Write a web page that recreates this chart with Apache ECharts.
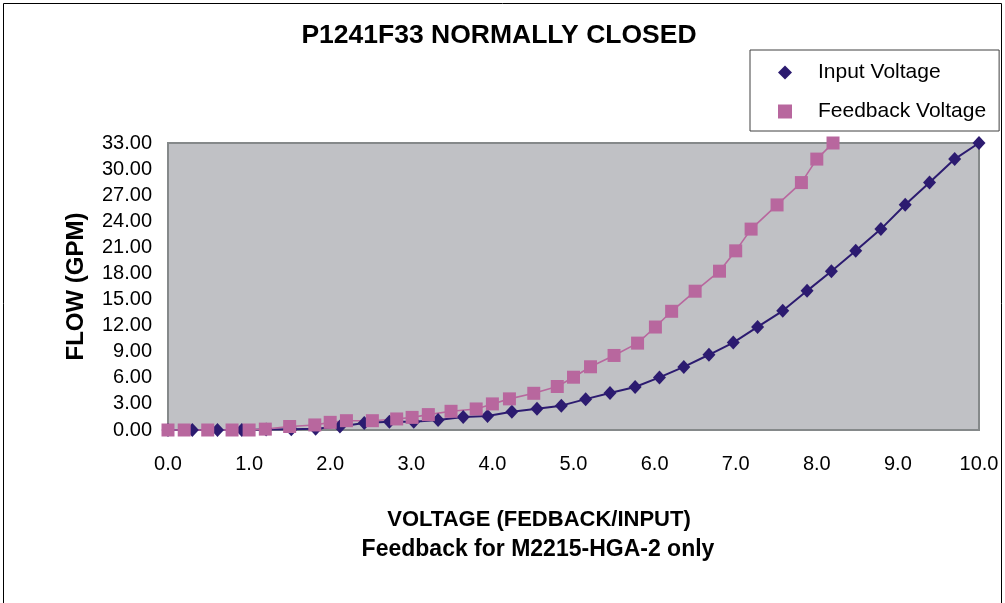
<!DOCTYPE html>
<html>
<head>
<meta charset="utf-8">
<script src="https://cdn.jsdelivr.net/npm/echarts@6/dist/echarts.min.js"></script>
<style>
html,body{margin:0;padding:0;background:#fff;}
#c{width:1005px;height:603px;}
</style>
</head>
<body>
<div id="c"></div>
<script>
const chartTitle = 'P1241F33 NORMALLY CLOSED';
const seriesNames = ['Input Voltage', 'Feedback Voltage'];
const xTitle1 = 'VOLTAGE (FEDBACK/INPUT)';
const xTitle2 = 'Feedback for M2215-HGA-2 only';
const yTitle = 'FLOW (GPM)';

const inputVoltage = [0, 0.30, 0.61, 0.91, 1.21, 1.52, 1.82, 2.12, 2.42, 2.73, 3.03, 3.33, 3.64, 3.94, 4.24, 4.55, 4.85, 5.15, 5.45, 5.76, 6.06, 6.36, 6.67, 6.97, 7.27, 7.58, 7.88, 8.18, 8.48, 8.79, 9.09, 9.39, 9.70, 10.0];
const inputFlow = [0, 0, 0, 0, 0.05, 0.1, 0.15, 0.4, 0.8, 0.95, 0.95, 1.15, 1.5, 1.6, 2.1, 2.45, 2.8, 3.55, 4.25, 4.95, 6.05, 7.25, 8.65, 10.05, 11.85, 13.7, 16.0, 18.25, 20.6, 23.1, 25.9, 28.45, 31.15, 33.0];

const feedbackVoltage = [0.0, 0.2, 0.49, 0.79, 1.0, 1.2, 1.5, 1.81, 2.0, 2.2, 2.52, 2.82, 3.01, 3.21, 3.49, 3.80, 4.0, 4.21, 4.51, 4.80, 5.0, 5.21, 5.50, 5.79, 6.01, 6.21, 6.50, 6.80, 7.0, 7.19, 7.51, 7.81, 8.00, 8.20];
const feedbackFlow = [0, 0, 0, 0, 0, 0.1, 0.4, 0.58, 0.88, 1.07, 1.07, 1.27, 1.45, 1.77, 2.15, 2.42, 3.0, 3.58, 4.22, 5.0, 6.07, 7.27, 8.57, 9.99, 11.84, 13.65, 15.96, 18.26, 20.6, 23.1, 25.88, 28.45, 31.15, 33.0];

const xMin = 0, xMax = 10, xStep = 1;
const yMin = 0, yMax = 33, yStep = 3;

const FONT = "'Liberation Sans', Arial, sans-serif";
const pairs = (xs, ys) => xs.map((x, i) => [x, ys[i]]);

const chart = echarts.init(document.getElementById('c'), null, {renderer: 'canvas'});
chart.setOption({
  animation: false,
  backgroundColor: '#ffffff',
  legend: {
    orient: 'vertical',
    left: 750, top: 50,
    padding: [12, 13, 9, 28],
    itemWidth: 14, itemHeight: 14, itemGap: 18,
    borderColor: '#404040', borderWidth: 1,
    backgroundColor: '#fff',
    textStyle: {fontFamily: FONT, fontSize: 21, color: '#000', lineHeight: 20, padding: [0, 0, 0, 21]},
    data: [
      {name: seriesNames[0], icon: 'diamond'},
      {name: seriesNames[1], icon: 'rect'}
    ]
  },
  grid: {
    left: 168, right: 26, top: 143, bottom: 173,
    show: true, backgroundColor: '#c0c1c5', borderColor: '#85898a', borderWidth: 2
  },
  xAxis: {
    type: 'value', min: xMin, max: xMax, interval: xStep,
    axisLine: {show: false}, axisTick: {show: false}, splitLine: {show: false},
    axisLabel: {fontFamily: FONT, fontSize: 20, color: '#000', margin: 24,
      formatter: v => v.toFixed(1)}
  },
  yAxis: {
    type: 'value', min: yMin, max: yMax, interval: yStep,
    name: yTitle, nameLocation: 'middle', nameRotate: 90, nameGap: 80,
    nameTextStyle: {fontFamily: FONT, fontWeight: 'bold', fontSize: 24, color: '#000'},
    axisLine: {show: false}, axisTick: {show: false}, splitLine: {show: false},
    axisLabel: {fontFamily: FONT, fontSize: 20, color: '#000', margin: 16,
      formatter: v => v.toFixed(2)}
  },
  graphic: [
    {type: 'rect', silent: true, z: -10,
      shape: {x: 3.5, y: 3.5, width: 998, height: 610},
      style: {fill: 'none', stroke: '#000', lineWidth: 1}},
    {type: 'text', silent: true,
      style: {text: chartTitle, fontFamily: FONT, fontWeight: 'bold', fontSize: 26.5, fill: '#000',
        x: 499, y: 36, align: 'center', verticalAlign: 'middle'}},
    {type: 'text', silent: true,
      style: {text: xTitle1, fontFamily: FONT, fontWeight: 'bold', fontSize: 22, fill: '#000',
        x: 539, y: 520, align: 'center', verticalAlign: 'middle'}},
    {type: 'text', silent: true,
      style: {text: xTitle2, fontFamily: FONT, fontWeight: 'bold', fontSize: 23, fill: '#000',
        x: 538, y: 550, align: 'center', verticalAlign: 'middle'}}
  ],
  series: [
    {
      name: seriesNames[0], type: 'line', clip: false,
      data: pairs(inputVoltage, inputFlow),
      symbol: 'diamond', symbolSize: [13, 14],
      itemStyle: {color: '#2c1b70'},
      lineStyle: {color: '#2c1b70', width: 2}
    },
    {
      name: seriesNames[1], type: 'line', clip: false,
      data: pairs(feedbackVoltage, feedbackFlow),
      symbol: 'rect', symbolSize: [13, 13],
      itemStyle: {color: '#b8679e'},
      lineStyle: {color: '#b8679e', width: 1.6}
    }
  ]
});
</script>
</body>
</html>
